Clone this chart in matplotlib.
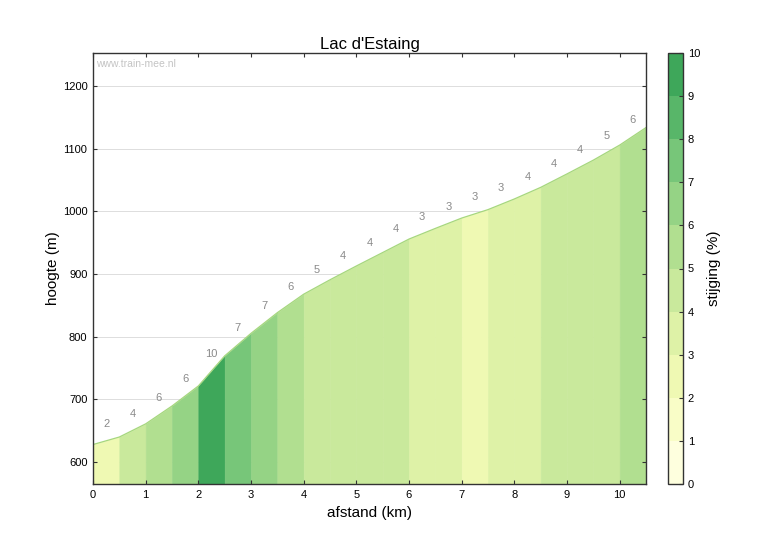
import numpy as np
import matplotlib
matplotlib.use("Agg")
import matplotlib.pyplot as plt
from matplotlib.colors import ListedColormap, BoundaryNorm

plt.rcParams['font.family'] = ['Liberation Sans', 'DejaVu Sans']

# data
distance_km = [0, 0.5, 1.0, 1.5, 2.0, 2.5, 3.0, 3.5, 4.0, 4.5, 5.0, 5.5, 6.0,
               6.5, 7.0, 7.5, 8.0, 8.5, 9.0, 9.5, 10.0, 10.5]
elevation_m = [628, 640, 661, 689.5, 721.5, 769.5, 805.5, 838.5, 868, 891, 913,
               934.5, 956, 973, 989.5, 1003, 1020, 1038.5, 1060, 1082, 1106, 1134]
title = "Lac d'Estaing"
xlabel = "afstand (km)"
ylabel = "hoogte (m)"
cbar_label = "stijging (%)"
watermark = "www.train-mee.nl"
xticks = list(range(0, 11))
yticks = [600, 700, 800, 900, 1000, 1100, 1200]
cticks = list(range(0, 11))

d = np.array(distance_km)
e = np.array(elevation_m)
grad = np.diff(e) / (np.diff(d) * 1000) * 100

cmap = ListedColormap(plt.get_cmap('YlGn')(np.linspace(0.02, 0.64, 10)))
norm = BoundaryNorm(np.arange(0, 11), cmap.N)

fig = plt.figure(figsize=(7.68, 5.38), dpi=100)
W, H = 768, 538
ax = fig.add_axes([93 / W, 1 - 484 / H, (646 - 93) / W, (484 - 53) / H])
cax = fig.add_axes([668 / W, 1 - 484 / H, 15 / W, (484 - 53) / H])

ymin, ymax = 565, 1253
ax.set_xlim(0, 10.5)
ax.set_ylim(ymin, ymax)

for yt in yticks:
    ax.axhline(yt, color='#dddddd', lw=0.7, zorder=0)

for i in range(len(grad)):
    xs = [d[i], d[i + 1]]
    c = cmap(norm(grad[i]))
    ax.fill_between(xs, [ymin, ymin], [e[i], e[i + 1]],
                    facecolor=c, edgecolor=c, lw=0.4, zorder=1)
    xm = (d[i] + d[i + 1]) / 2
    ym = (e[i] + e[i + 1]) / 2
    ax.annotate(f"{int(round(grad[i]))}", (xm, ym), xytext=(0, 12),
                textcoords='offset points', ha='center', va='center',
                fontsize=8, color='#8a8a8a', zorder=3)

ax.plot(d, e, color='#a6d77e', lw=0.9, zorder=2)

ax.set_xticks(xticks)
ax.set_yticks(yticks)
ax.tick_params(direction='in', length=3, width=0.8, labelsize=8,
               top=True, right=True, color='#333333', pad=4)
for s in ax.spines.values():
    s.set_color('#333333')
    s.set_linewidth(1.0)
    s.set_zorder(5)

ax.set_title(title, fontsize=12, pad=3)
ax.set_xlabel(xlabel, fontsize=11, labelpad=5)
ax.set_ylabel(ylabel, fontsize=11, labelpad=2)
ax.text(0.006, 0.985, watermark, transform=ax.transAxes, ha='left', va='top',
        fontsize=7.5, color='#c4c4c4')

sm = matplotlib.cm.ScalarMappable(cmap=cmap, norm=norm)
cb = fig.colorbar(sm, cax=cax, ticks=cticks)
cb.outline.set_edgecolor('#333333')
cb.outline.set_linewidth(1.0)
cax.tick_params(direction='in', length=3, labelsize=8, color='#333333')
cb.set_label(cbar_label, fontsize=11, labelpad=5)

fig.savefig('out.png', dpi=100)
